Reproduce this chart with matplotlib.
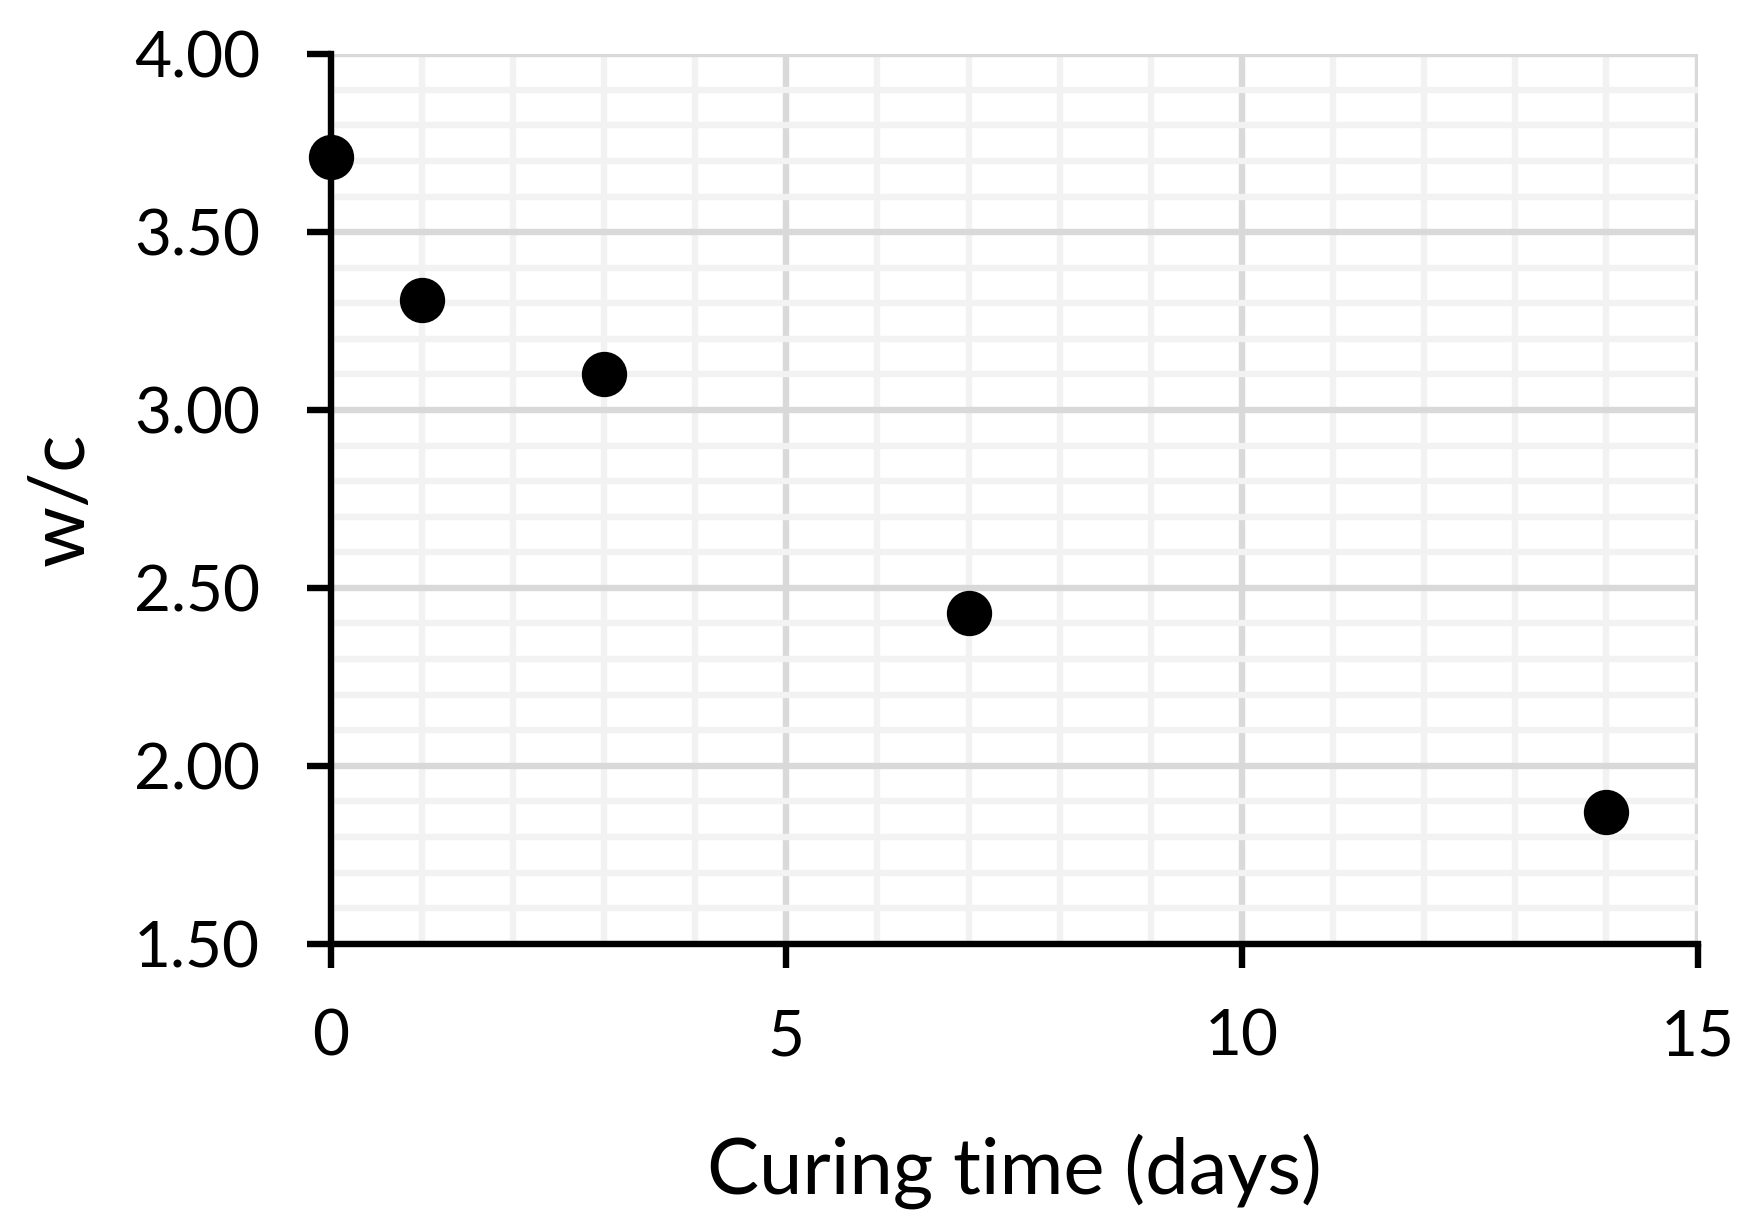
import matplotlib
matplotlib.use('Agg')
import matplotlib.pyplot as plt
from matplotlib.ticker import MultipleLocator, FormatStrFormatter

plt.rcParams['font.family'] = ['Lato', 'DejaVu Sans']

# curing time in days vs water/cement ratio
curing_days = [0, 1, 3, 7, 14]
wc_ratio = [3.71, 3.31, 3.10, 2.43, 1.87]

fig = plt.figure(figsize=(17.5, 12.32), dpi=100)
ax = fig.add_axes([0.189, 0.234, 0.781, 0.722])

ax.scatter(curing_days, wc_ratio, s=1000, color='black', zorder=5, clip_on=False)

ax.set_xlim(0, 15)
ax.set_ylim(1.5, 4.0)
ax.xaxis.set_major_locator(MultipleLocator(5))
ax.xaxis.set_minor_locator(MultipleLocator(1))
ax.yaxis.set_major_locator(MultipleLocator(0.5))
ax.yaxis.set_minor_locator(MultipleLocator(0.1))
ax.yaxis.set_major_formatter(FormatStrFormatter('%.2f'))

ax.grid(which='major', color='#d9d9d9', linewidth=4.6, zorder=1)
ax.grid(which='minor', color='#f2f2f2', linewidth=4.6, zorder=0)
ax.set_axisbelow(True)

for side in ['top', 'right']:
    ax.spines[side].set_visible(False)
for side in ['left', 'bottom']:
    ax.spines[side].set_linewidth(4.6)
    ax.spines[side].set_zorder(3)

ax.tick_params(which='major', direction='out', length=17, width=4.6, labelsize=46)
ax.tick_params(axis='y', pad=34)
ax.tick_params(axis='x', pad=30)
ax.tick_params(which='minor', length=0)

ax.set_xlabel('Curing time (days)', fontsize=56, labelpad=48)
ax.set_ylabel('w/c', fontsize=56, labelpad=26)

fig.savefig('out.png', dpi=100)
